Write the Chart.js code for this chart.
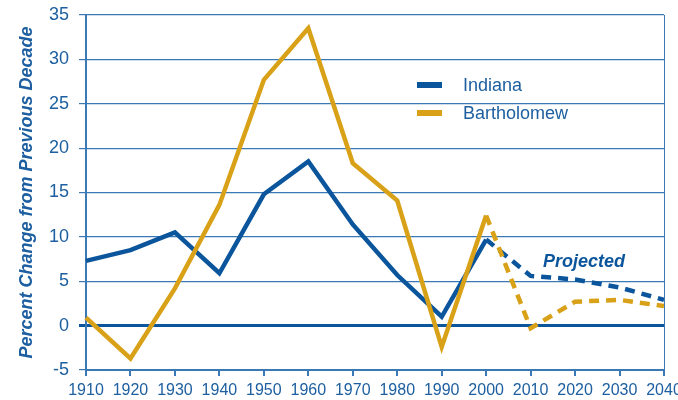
<!DOCTYPE html>
<html>
<head>
<meta charset="utf-8">
<script src="https://cdn.jsdelivr.net/npm/chart.js@4/dist/chart.umd.min.js"></script>
<style>
  html, body { margin: 0; padding: 0; background: #fff; }
  #wrap { width: 678px; height: 400px; }
</style>
</head>
<body>
<div id="wrap"><canvas id="popChart" width="678" height="400"></canvas></div>
<script>
// decades on the x axis
var years = ["1910", "1920", "1930", "1940", "1950", "1960", "1970", "1980", "1990", "2000", "2010", "2020", "2030", "2040"];
// percent change from previous decade (2010 onward projected)
var indiana = [7.3, 8.5, 10.5, 5.9, 14.8, 18.5, 11.4, 5.7, 1.0, 9.7, 5.6, 5.2, 4.3, 2.9];
var bartholomew = [0.9, -3.7, 4.2, 13.6, 27.7, 33.5, 18.3, 14.1, -2.4, 12.4, -0.3, 2.7, 2.9, 2.2];
var yTicks = [-5, 0, 5, 10, 15, 20, 25, 30, 35];
var projectedFrom = 9; // index of 2000, dashed after this

var blue = "#0b559c";
var gold = "#d9a117";
var textBlue = "#1d5fa0";
var gridBlue = "#3a79b5";
var fontFamily = "'Liberation Sans', Arial, sans-serif";

function projectedDash(ctx) {
  return ctx.p0DataIndex >= projectedFrom ? [10, 7] : undefined;
}

// legend, "Projected" label and right border drawn by hand
var extras = {
  id: "extras",
  afterDraw: function (chart) {
    var c = chart.ctx;
    var area = chart.chartArea;
    c.save();
    c.strokeStyle = gridBlue;
    c.lineWidth = 1;
    c.beginPath();
    c.moveTo(area.right + 0.5, area.top);
    c.lineTo(area.right + 0.5, area.bottom);
    c.stroke();

    var items = [["Indiana", blue, 85], ["Bartholomew", gold, 113]];
    for (var i = 0; i < items.length; i++) {
      c.strokeStyle = items[i][1];
      c.lineWidth = 6;
      c.beginPath();
      c.moveTo(417, items[i][2]);
      c.lineTo(442, items[i][2]);
      c.stroke();
      c.fillStyle = textBlue;
      c.font = "18px " + fontFamily;
      c.textBaseline = "middle";
      c.fillText(items[i][0], 463, items[i][2] + 1);
    }

    c.fillStyle = blue;
    c.font = "bold italic 18px " + fontFamily;
    c.textBaseline = "middle";
    c.fillText("Projected", 543, 262);
    c.restore();
  }
};

var ctx = document.getElementById("popChart").getContext("2d");
var myChart = new Chart(ctx, {
  type: "line",
  data: {
    labels: years,
    datasets: [
      {
        label: "Bartholomew",
        data: bartholomew,
        borderColor: gold,
        borderWidth: 4.5,
        pointRadius: 0,
        tension: 0,
        borderJoinStyle: "miter",
        segment: { borderDash: projectedDash }
      },
      {
        label: "Indiana",
        data: indiana,
        borderColor: blue,
        borderWidth: 4.5,
        pointRadius: 0,
        tension: 0,
        borderJoinStyle: "miter",
        segment: { borderDash: projectedDash }
      }
    ]
  },
  options: {
    responsive: false,
    animation: false,
    layout: { padding: { left: 0, right: 14, top: 15, bottom: 0 } },
    plugins: {
      legend: { display: false },
      tooltip: { enabled: false }
    },
    scales: {
      x: {
        type: "category",
        offset: false,
        afterFit: function (scale) {
          scale.height = 30;
          scale.paddingLeft = 0;
          scale.paddingRight = 0;
        },
        border: { display: true, color: gridBlue, width: 2 },
        grid: { display: true, drawOnChartArea: false, drawTicks: true, tickLength: 6, color: gridBlue, lineWidth: 2 },
        ticks: {
          color: textBlue,
          padding: 5,
          maxRotation: 0,
          autoSkip: false,
          font: { family: fontFamily, size: 16 }
        }
      },
      y: {
        min: -5,
        max: 35,
        afterFit: function (scale) {
          scale.width = 86;
          scale.paddingTop = 0;
          scale.paddingBottom = 0;
        },
        afterBuildTicks: function (scale) {
          scale.ticks = yTicks.map(function (v) { return { value: v }; });
        },
        border: { display: true, color: gridBlue, width: 2 },
        grid: {
          drawTicks: true,
          tickLength: 7,
          color: function (c) { return c.tick && c.tick.value === 0 ? blue : gridBlue; },
          lineWidth: function (c) { return c.tick && c.tick.value === 0 ? 3 : 1.2; }
        },
        ticks: {
          color: textBlue,
          padding: 10,
          font: { family: fontFamily, size: 18 }
        },
        title: {
          display: true,
          text: "Percent Change from Previous Decade",
          color: textBlue,
          padding: { top: 16, bottom: 0 },
          font: { family: fontFamily, size: 18, weight: "bold", style: "italic" }
        }
      }
    }
  },
  plugins: [extras]
});
</script>
</body>
</html>
